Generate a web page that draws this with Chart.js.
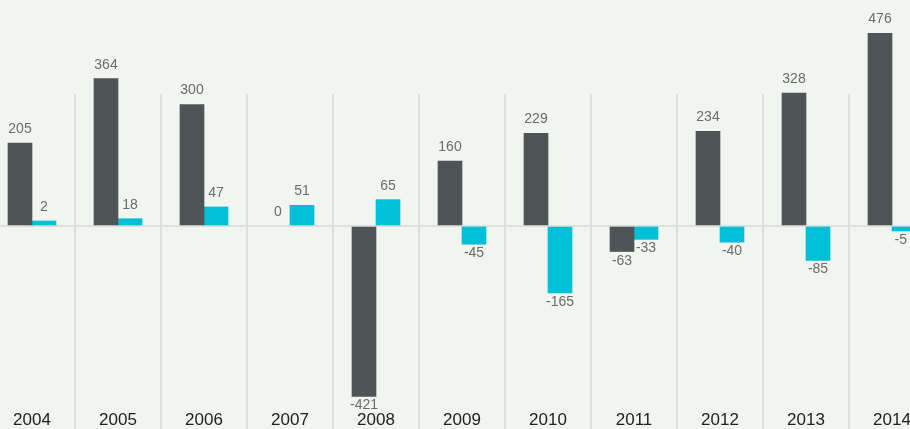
<!DOCTYPE html>
<html>
<head>
<meta charset="utf-8">
<script src="https://cdn.jsdelivr.net/npm/chart.js@4"></script>
<style>
  html, body { margin: 0; padding: 0; background: #f0f5f0; overflow: hidden; }
  body { width: 910px; height: 429px; position: relative; }
  #wrap { position: absolute; left: -11px; top: 0; width: 946px; height: 431px; }
</style>
</head>
<body>
<div id="wrap"><canvas id="chartCanvas" width="946" height="431"></canvas></div>
<script>
// Données
const years = ['2004', '2005', '2006', '2007', '2008', '2009', '2010', '2011', '2012', '2013', '2014'];
const darkValues = [205, 364, 300, 0, -421, 160, 229, -63, 234, 328, 476];
const cyanValues = [2, 18, 47, 51, 65, -45, -165, -33, -40, -85, -5];

const darkColor = '#4d5557';
const cyanColor = '#00bfd6';
const gridColor = '#dcdfdb';
const fontFamily = '"Liberation Sans", Arial, sans-serif';

// Étiquettes de valeur au-dessus / en dessous des barres
const valueLabels = {
    id: 'valueLabels',
    afterDatasetsDraw(chart) {
        const ctx = chart.ctx;
        ctx.save();
        ctx.font = '14px ' + fontFamily;
        ctx.fillStyle = '#6b6b6b';
        ctx.textAlign = 'center';
        ctx.textBaseline = 'alphabetic';
        chart.data.datasets.forEach((ds, i) => {
            chart.getDatasetMeta(i).data.forEach((bar, j) => {
                const v = ds.data[j];
                const txt = String(v);
                const half = ctx.measureText(txt).width / 2;
                // garder le texte dans la fenêtre visible
                const x = Math.min(bar.x, 918 - half);
                const y = v >= 0 ? bar.y - 10 : bar.y + 13;
                ctx.fillText(txt, x, y);
            });
        });
        ctx.restore();
    }
};

const ctx = document.getElementById('chartCanvas').getContext('2d');
new Chart(ctx, {
    type: 'bar',
    data: {
        labels: years,
        datasets: [
            {
                label: 'dark',
                data: darkValues,
                backgroundColor: c => (c.raw === 0 ? 'rgba(0,0,0,0)' : darkColor),
                borderWidth: 0,
                barThickness: 24,
                clip: false
            },
            {
                label: 'cyan',
                data: cyanValues,
                backgroundColor: cyanColor,
                borderWidth: 0,
                barThickness: 24,
                minBarLength: 5,
                clip: false
            }
        ]
    },
    options: {
        responsive: false,
        animation: false,
        devicePixelRatio: 1,
        layout: { padding: { top: 94, bottom: 0, left: 0, right: 0 } },
        plugins: {
            legend: { display: false },
            tooltip: { enabled: false }
        },
        scales: {
            x: {
                offset: true,
                border: { display: false },
                grid: { offset: true, color: gridColor, lineWidth: 2, drawTicks: false },
                ticks: {
                    mirror: true,
                    padding: 0,
                    color: '#222222',
                    font: { family: fontFamily, size: 17 },
                    maxRotation: 0,
                    autoSkip: false
                }
            },
            y: {
                min: -506.2,
                max: 325.9,
                border: { display: false },
                ticks: { display: false },
                afterBuildTicks: s => { s.ticks = [{ value: 0 }]; },
                grid: { color: gridColor, lineWidth: 2, drawTicks: false }
            }
        }
    },
    plugins: [valueLabels]
});
</script>
</body>
</html>
